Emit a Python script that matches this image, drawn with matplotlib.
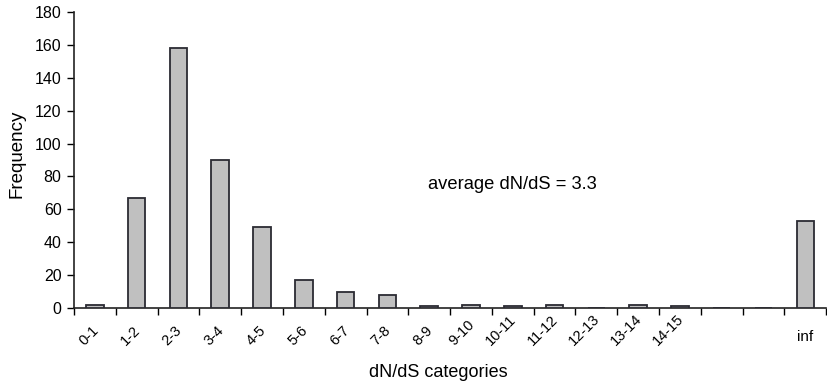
import numpy as np
import matplotlib
from matplotlib import pyplot as plt
import matplotlib.ticker as ticker

matplotlib.rcParams['font.family'] = ['Liberation Sans', 'DejaVu Sans']

# dN/dS category histogram, two empty slots before the 'inf' class
categories = ['0-1', '1-2', '2-3', '3-4', '4-5', '5-6', '6-7', '7-8', '8-9', '9-10',
              '10-11', '11-12', '12-13', '13-14', '14-15', '', '', 'inf']
frequency = [2, 67, 158, 90, 49, 17, 10, 8, 1, 2, 1, 2, 0, 2, 1, 0, 0, 53]
avg_dnds = 3.3

fig = plt.figure(figsize=(8.27, 3.85), dpi=100)
ax = fig.add_axes([0.0895, 0.2, 0.9095, 0.769])

x = np.arange(len(categories))
ax.bar(x, frequency, width=0.42, color='#c0c0c0', edgecolor='#2b2b33', linewidth=1.3, zorder=3)

ax.set_xlim(-0.5, len(categories) - 0.5)
ax.set_ylim(0, 180)
ax.yaxis.set_major_locator(ticker.MultipleLocator(20))

# tick marks sit on the slot boundaries
ax.set_xticks(np.arange(len(categories) + 1) - 0.5)
ax.set_xticklabels([])
ax.tick_params(axis='x', length=5, width=1, direction='out')
ax.tick_params(axis='y', length=5, width=1, direction='out', labelsize=11.5, pad=4)

# category labels: slanted, bottom-aligned under each slot
trans = ax.get_xaxis_transform()
for xi, cat in zip(x, categories):
    if not cat:
        continue
    if cat == 'inf':
        ax.text(xi, -0.12, cat, transform=trans, fontsize=11, ha='center', va='bottom')
    else:
        ax.text(xi + 0.15, -0.135, cat, transform=trans, fontsize=10.5, rotation=45,
                ha='right', va='bottom')

for s in ['top', 'right']:
    ax.spines[s].set_visible(False)
for s in ['left', 'bottom']:
    ax.spines[s].set_linewidth(1.2)
    ax.spines[s].set_color('#222222')

ax.set_ylabel('Frequency', fontsize=13.5)
ax.yaxis.set_label_coords(-0.064, 0.52)
ax.set_xlabel('dN/dS categories', fontsize=13)
ax.xaxis.set_label_coords(0.484, -0.19)
ax.text(10.0, 75, 'average dN/dS = %.1f' % avg_dnds, fontsize=13.2, ha='center', va='center')

plt.savefig('out.png', dpi=100)
